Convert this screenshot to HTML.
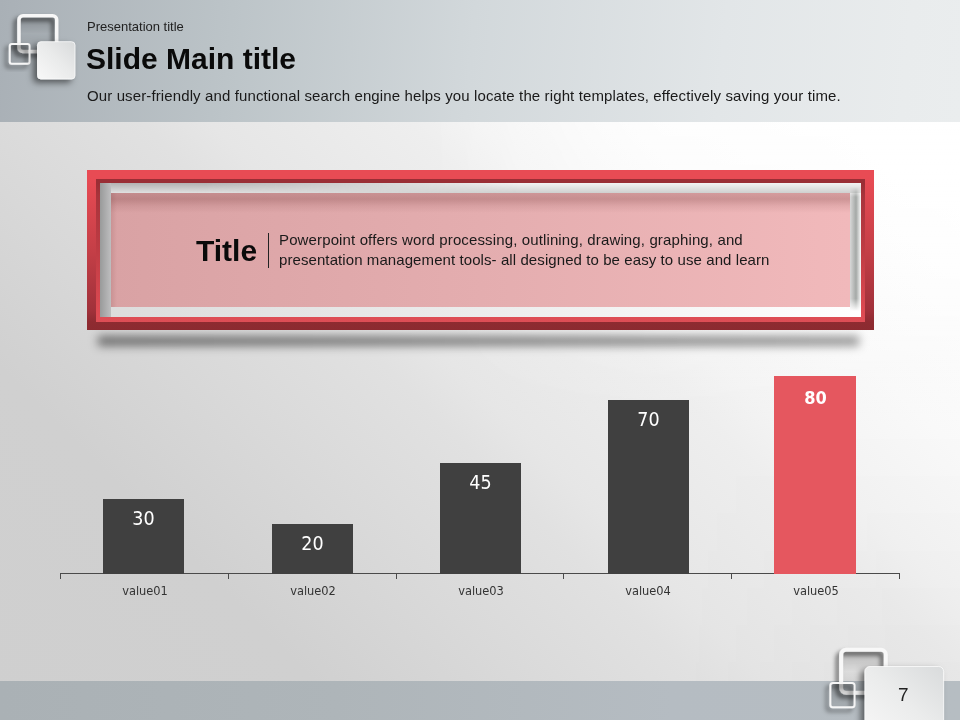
<!DOCTYPE html>
<html lang="en">
<head>
<meta charset="utf-8">
<title>Slide Main title</title>
<style>
html,body{margin:0;padding:0;}
body{width:960px;height:720px;overflow:hidden;position:relative;font-family:"Liberation Sans",sans-serif;color:#111;
  background:linear-gradient(45deg,#cfcfcf 0%,#d0d0d0 21%,#d9d9d9 33%,#e1e1e1 44%,#e6e6e6 48%,#eeeeee 60%,#f3f3f3 64%,#f9f9f9 73%,#ffffff 88%);}
.abs{position:absolute;}
#bgo1{left:420px;top:122px;width:540px;height:300px;background:linear-gradient(180deg,rgba(255,255,255,0.7) 0%,rgba(255,255,255,0) 100%);-webkit-mask-image:linear-gradient(90deg,transparent 0%,#000 45%);mask-image:linear-gradient(90deg,transparent 0%,#000 45%);}
#bgo2{left:680px;top:420px;width:280px;height:261px;background:linear-gradient(180deg,rgba(0,0,0,0) 0%,rgba(0,0,0,0.028) 100%);-webkit-mask-image:linear-gradient(90deg,transparent 0%,#000 80%);mask-image:linear-gradient(90deg,transparent 0%,#000 80%);}
#header{left:0;top:0;width:960px;height:122px;background:linear-gradient(95deg,#a9b0b6 0%,#bcc4c8 24%,#d2d8db 49%,#e2e6e8 75%,#e9eced 94%,#eaedee 100%);}
#footer{left:0;top:681px;width:960px;height:39px;background:linear-gradient(90deg,#aab1b5 0%,#aeb5b9 35%,#b5bcc2 70%,#b6bdc2 100%);}
.t{position:absolute;white-space:nowrap;line-height:1;transform-origin:0 0;will-change:transform;}

#pt{left:87px;top:20px;font-size:13px;color:#222;}
#mt{left:86px;top:44px;font-size:30px;font-weight:bold;color:#0a0a0a;}
#st{left:87px;top:88px;font-size:15px;color:#1a1a1a;letter-spacing:0.12px;}
/* frame */
#fshadow{left:98px;top:336px;width:761px;height:10px;background:linear-gradient(90deg,rgba(0,0,0,0.49),rgba(0,0,0,0.40));filter:blur(5px);}
#frame{left:87px;top:170px;width:787px;height:160px;background:linear-gradient(to bottom,#e84b54 0%,#e84b54 5%,#c53f47 50%,#a0313a 88%,#8e2b31 95%,#8c2a30 100%);}
#bevel{left:9px;top:9px;width:769px;height:143px;background:linear-gradient(to bottom,#9a2e35 0%,#9a2e35 3%,#a8343c 12%,#bf3c44 50%,#dc4a52 92%,#de4e56 100%);}
#mat{left:4px;top:4px;width:761px;height:134px;background:linear-gradient(90deg,#dcdcdc 0%,#ececec 50%,#ffffff 100%);}
#mat .st{left:0;top:0;width:761px;height:10px;background:linear-gradient(180deg,#f3f3f3,#cfd0cf);}
#mat .st2{left:0;top:0;width:420px;height:10px;background:linear-gradient(180deg,#b2b2b2,#e0e0e0);-webkit-mask-image:linear-gradient(90deg,#000 0%,#000 25%,transparent 100%);mask-image:linear-gradient(90deg,#000 0%,#000 25%,transparent 100%);}
#mat .sl{left:0;top:0;width:11px;height:134px;background:linear-gradient(90deg,#999a9a,#bebebf);}
#mat .sr{right:0;top:4px;width:11px;height:124px;background:linear-gradient(90deg,#d8d8d8 0%,#a4a8a6 55%,#f0f0f0 95%);-webkit-mask-image:linear-gradient(180deg,transparent 0%,#000 8%,#000 90%,transparent 100%);mask-image:linear-gradient(180deg,transparent 0%,#000 8%,#000 90%,transparent 100%);}
#panel{left:11px;top:10px;width:739px;height:114px;background:linear-gradient(90deg,#d9a2a4 0%,#e4adaf 50%,#f1b9bb 100%);}
#panel .ps{left:0;top:0;width:739px;height:20px;background:linear-gradient(180deg,rgba(110,50,50,0.20) 0px,rgba(110,50,50,0.27) 6px,rgba(110,50,50,0.10) 13px,rgba(110,50,50,0) 20px);}
#panel .pl{left:0;top:0;width:6px;height:114px;background:linear-gradient(90deg,rgba(110,50,50,0.14),rgba(110,50,50,0));}
#ft{left:196px;top:236px;font-size:30px;font-weight:bold;color:#0a0a0a;}
#sep{left:268px;top:233px;width:1px;height:35px;background:#222;}
#b1{left:279px;top:232px;font-size:15px;color:#1a1a1a;letter-spacing:0.13px;}
#b2{left:279px;top:252px;font-size:15px;color:#1a1a1a;letter-spacing:0.085px;}

/* chart */
#axis{left:60px;top:573px;width:840px;height:1px;background:#4a4a4a;}
.tick{position:absolute;top:573px;width:1px;height:6px;background:#4a4a4a;}
.bar{position:absolute;width:81px;background:#404040;}
.bar.red{background:#e5575f;}
.bl{will-change:transform;position:absolute;width:81px;text-align:center;color:#fff;font-size:19.5px;line-height:1;font-family:"DejaVu Sans Condensed","DejaVu Sans","Liberation Sans",sans-serif;}
.cl{will-change:transform;position:absolute;width:100px;text-align:center;color:#333;font-size:12.7px;line-height:1;top:585px;font-family:"DejaVu Sans Condensed","DejaVu Sans","Liberation Sans",sans-serif;}
</style>
</head>
<body>
<div id="bgo1" class="abs"></div>
<div id="bgo2" class="abs"></div>
<div id="header" class="abs"></div>
<div id="footer" class="abs"></div>

<div id="pt" class="t">Presentation title</div>
<div id="mt" class="t">Slide Main title</div>
<div id="st" class="t">Our user-friendly and functional search engine helps you locate the right templates, effectively saving your time.</div>

<div id="fshadow" class="abs"></div>
<div id="frame" class="abs">
  <div id="bevel" class="abs">
    <div id="mat" class="abs">
      <div class="abs st"></div><div class="abs st2"></div><div class="abs sl"></div><div class="abs sr"></div>
      <div id="panel" class="abs"><div class="abs ps"></div><div class="abs pl"></div></div>
    </div>
  </div>
</div>
<div id="ft" class="t">Title</div>
<div id="sep" class="abs"></div>
<div id="b1" class="t">Powerpoint offers word processing, outlining, drawing, graphing, and</div>
<div id="b2" class="t">presentation management tools- all designed to be easy to use and learn</div>

<div id="axis" class="abs"></div>
<div class="tick" style="left:60px"></div>
<div class="tick" style="left:228px"></div>
<div class="tick" style="left:396px"></div>
<div class="tick" style="left:563px"></div>
<div class="tick" style="left:731px"></div>
<div class="tick" style="left:899px"></div>
<div class="bar" style="left:103px;top:499px;height:75px"></div>
<div class="bl" style="left:103px;top:509px">30</div>
<div class="cl" style="left:95px">value01</div>
<div class="bar" style="left:272px;top:524px;height:50px"></div>
<div class="bl" style="left:272px;top:534px">20</div>
<div class="cl" style="left:263px">value02</div>
<div class="bar" style="left:440px;top:463px;height:111px"></div>
<div class="bl" style="left:440px;top:473px">45</div>
<div class="cl" style="left:431px">value03</div>
<div class="bar" style="left:608px;top:400px;height:174px"></div>
<div class="bl" style="left:608px;top:410px">70</div>
<div class="cl" style="left:598px">value04</div>
<div class="bar red" style="left:774px;top:376px;height:198px;width:82px"></div>
<div class="bl" style="left:775px;top:389px;font-weight:bold;font-size:18px">80</div>
<div class="cl" style="left:766px">value05</div>

<svg id="ico1" class="abs" style="left:0;top:0" width="100" height="100" viewBox="0 0 100 100">
  <defs>
    <filter id="sh1" x="-40%" y="-40%" width="180%" height="180%"><feDropShadow dx="-3.4" dy="3.4" stdDeviation="2.1" flood-color="#000" flood-opacity="0.55"/></filter>
    <filter id="sh2" x="-40%" y="-40%" width="180%" height="180%"><feDropShadow dx="-4" dy="3.5" stdDeviation="3" flood-color="#000" flood-opacity="0.5"/></filter>
    <linearGradient id="g1" x1="0" y1="1" x2="1" y2="0"><stop offset="0" stop-color="#f8f8f8"/><stop offset="0.55" stop-color="#e9eaea"/><stop offset="1" stop-color="#d8dadb"/></linearGradient>
    <linearGradient id="gi" x1="0" y1="0" x2="0" y2="1"><stop offset="0" stop-color="#000" stop-opacity="0.20"/><stop offset="0.5" stop-color="#000" stop-opacity="0.04"/><stop offset="1" stop-color="#000" stop-opacity="0.10"/></linearGradient>
    <linearGradient id="gs" x1="0" y1="0" x2="0" y2="1"><stop offset="0" stop-color="#000" stop-opacity="0.20"/><stop offset="1" stop-color="#000" stop-opacity="0.08"/></linearGradient>
  </defs>
  <rect x="19" y="15.8" width="37.7" height="35.6" rx="4" ry="4" fill="none" stroke="#f7f7f7" stroke-width="3.5" filter="url(#sh1)"/>
  <rect x="20.7" y="17.5" width="34.3" height="32.2" rx="2.5" ry="2.5" fill="url(#gi)"/>
  <rect x="9.8" y="44.1" width="19.8" height="19.6" rx="2" ry="2" fill="none" stroke="#f6f6f6" stroke-width="2" filter="url(#sh1)"/>
  <rect x="10.8" y="45.1" width="17.8" height="17.6" rx="1" ry="1" fill="url(#gs)"/>
  <rect x="37.5" y="41.7" width="37.5" height="37.3" rx="3.5" ry="3.5" fill="url(#g1)" stroke="#fbfbfb" stroke-width="0.8" filter="url(#sh2)"/>
</svg>
<svg id="ico2" class="abs" style="left:810px;top:630px;will-change:transform" width="150" height="90" viewBox="810 630 150 90">
  <defs>
    <linearGradient id="g2" x1="0" y1="1" x2="1" y2="0"><stop offset="0" stop-color="#f7f7f7"/><stop offset="0.5" stop-color="#ebecec"/><stop offset="1" stop-color="#d9dbdc"/></linearGradient>
  </defs>
  <rect x="841.2" y="649.8" width="44.6" height="43" rx="5" ry="5" fill="none" stroke="#f8f8f8" stroke-width="4" filter="url(#sh1)"/>
  <rect x="843.2" y="651.8" width="40.6" height="39" rx="3" ry="3" fill="url(#gi)"/>
  <rect x="830.4" y="683.1" width="24.2" height="24.2" rx="2.5" ry="2.5" fill="none" stroke="#f6f6f6" stroke-width="2" filter="url(#sh1)"/>
  <rect x="831.4" y="684.1" width="22.2" height="22.2" rx="1.5" ry="1.5" fill="url(#gs)"/>
  <rect x="865" y="666.5" width="78.6" height="70" rx="5" ry="5" fill="url(#g2)" stroke="#fbfbfb" stroke-width="0.8" filter="url(#sh2)"/>
  <text x="903.2" y="701" text-anchor="middle" font-family="Liberation Sans, sans-serif" font-size="19" fill="#222">7</text>
</svg>

</body>
</html>
